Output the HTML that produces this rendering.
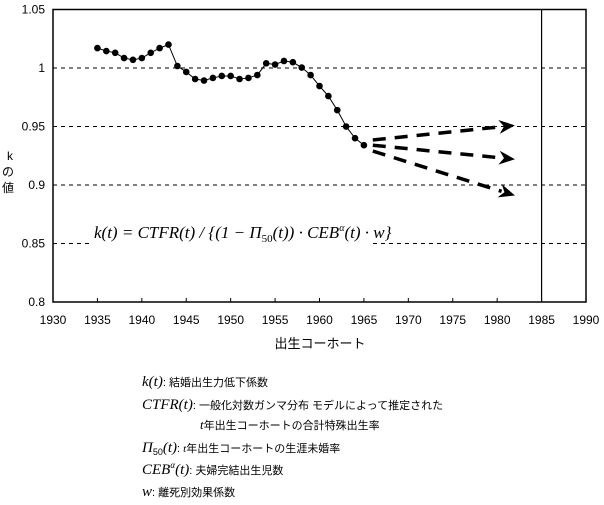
<!DOCTYPE html>
<html><head><meta charset="utf-8"><style>
body{margin:0;background:#fff;}
svg text{font-family:"Liberation Sans","Noto Sans CJK JP",sans-serif;}
.m{font-family:"Liberation Serif",serif;font-style:italic;}
</style></head><body>
<svg id="c" width="604" height="500" viewBox="0 0 604 500" xmlns="http://www.w3.org/2000/svg">
<rect width="604" height="500" fill="#fff"/>
<g id="grid"></g><g id="axes"></g><g id="series"></g>
<g>
<rect x="90" y="214" width="280" height="34" fill="#fff"/>
<text class="m" x="94" y="238" font-size="17">k(t) = CTFR(t) / {(1 − Π<tspan font-size="11" dy="4" font-style="normal">50</tspan><tspan dy="-4">(t)) · CEB</tspan><tspan font-size="10" dy="-7">α</tspan><tspan dy="7">(t) · w}</tspan></text>
</g>
<text x="7" y="160" font-size="12">k</text>
<text x="2" y="176" font-size="12">の</text>
<text x="2" y="192" font-size="12">値</text>
<text x="320" y="348" font-size="13" text-anchor="middle">出生コーホート</text>
<g font-size="11">
<text x="142" y="386"><tspan class="m" font-size="15">k(t)</tspan>: 結婚出生力低下係数</text>
<text x="142" y="409"><tspan class="m" font-size="15">CTFR(t)</tspan>: 一般化対数ガンマ分布 モデルによって推定された</text>
<text x="200" y="429"><tspan class="m" font-size="13">t</tspan>年出生コーホートの合計特殊出生率</text>
<text x="142" y="452"><tspan class="m" font-size="15">Π</tspan><tspan font-size="9" dy="3">50</tspan><tspan class="m" font-size="15" dy="-3">(t)</tspan>: <tspan class="m">t</tspan>年出生コーホートの生涯未婚率</text>
<text x="142" y="474"><tspan class="m" font-size="15">CEB</tspan><tspan class="m" font-size="9" dy="-6">α</tspan><tspan class="m" font-size="15" dy="6">(t)</tspan>: 夫婦完結出生児数</text>
<text x="142" y="496"><tspan class="m" font-size="15">w</tspan>: 離死別効果係数</text>
</g>
</svg>
<script>
const years=[1935,1936,1937,1938,1939,1940,1941,1942,1943,1944,1945,1946,1947,1948,1949,1950,1951,1952,1953,1954,1955,1956,1957,1958,1959,1960,1961,1962,1963,1964,1965];
const kValues=[1.017,1.0145,1.013,1.0085,1.007,1.0085,1.013,1.017,1.020,1.0017,0.9966,0.9906,0.9893,0.9915,0.9932,0.9932,0.9906,0.9915,0.994,1.004,1.003,1.006,1.005,1.0004,0.994,0.9846,0.976,0.964,0.950,0.940,0.934];
const projStartYear=[1966,1966,1966];
const projStartVal=[0.9385,0.934,0.929];
const projEndYear=[1982,1982,1982];
const projEndVal=[0.951,0.922,0.891];
const xTicks=[1930,1935,1940,1945,1950,1955,1960,1965,1970,1975,1980,1985,1990];
const yTicks=[0.8,0.85,0.9,0.95,1,1.05];
const yLabels=["0.8","0.85","0.9","0.95","1","1.05"];
const L=53,R=586,T=9.5,B=302;
const X=v=>L+(v-1930)/60*(R-L);
const Y=v=>B-(v-0.8)/0.25*(B-T);
const NS="http://www.w3.org/2000/svg";
function mk(p,t,a){const e=document.createElementNS(NS,t);for(const k in a)e.setAttribute(k,a[k]);p.appendChild(e);return e;}
const grid=document.getElementById('grid'),axes=document.getElementById('axes'),ser=document.getElementById('series');
yTicks.forEach((v,i)=>{
 if(v>0.8&&v<1.05){const g=mk(grid,'line',{x1:L,x2:R,y1:Y(v),y2:Y(v),stroke:'#000','stroke-width':1,'stroke-dasharray':'4,4'});
 
 }
 const t=mk(axes,'text',{x:L-8,y:Y(v)+4,'font-size':12,'text-anchor':'end'});t.textContent=yLabels[i];
 
 
});
xTicks.forEach(v=>{
 const tk=mk(axes,'line',{x1:X(v),x2:X(v),y1:B,y2:B-4,stroke:'#000'});
 
 
 const t=mk(axes,'text',{x:X(v),y:B+22,'font-size':12,'text-anchor':'middle'});t.textContent=v;
 
 
});
const fr=mk(axes,'rect',{x:L,y:T,width:R-L,height:B-T,fill:'none',stroke:'#000','stroke-width':1.5});


const vl=mk(axes,'line',{x1:X(1985),x2:X(1985),y1:T,y2:B,stroke:'#000','stroke-width':1.2});


const pl=mk(ser,'polyline',{points:years.map((y,i)=>X(y)+','+Y(kValues[i])).join(' '),fill:'none',stroke:'#000','stroke-width':1});


years.forEach((y,i)=>{const c=mk(ser,'circle',{cx:X(y),cy:Y(kValues[i]),r:3.3,fill:'#000'});
 
 });
projStartYear.forEach((s,i)=>{
 const x1=X(s),y1=Y(projStartVal[i]),x2=X(projEndYear[i]),y2=Y(projEndVal[i]);
 const a=Math.atan2(y2-y1,x2-x1),c=Math.cos(a),sn=Math.sin(a);
 const ln=mk(ser,'line',{x1:x1,y1:y1,x2:x2-14*c,y2:y2-14*sn,stroke:'#000','stroke-width':3.5,'stroke-dasharray':'13,9'});
 
 
 const p=[[x2,y2],[x2-16*c+7*sn,y2-16*sn-7*c],[x2-11*c,y2-11*sn],[x2-16*c-7*sn,y2-16*sn+7*c]];
 const ar=mk(ser,'polygon',{points:p.map(q=>q.join(',')).join(' '),fill:'#000'});
 
 
});
</script>
</body></html>
